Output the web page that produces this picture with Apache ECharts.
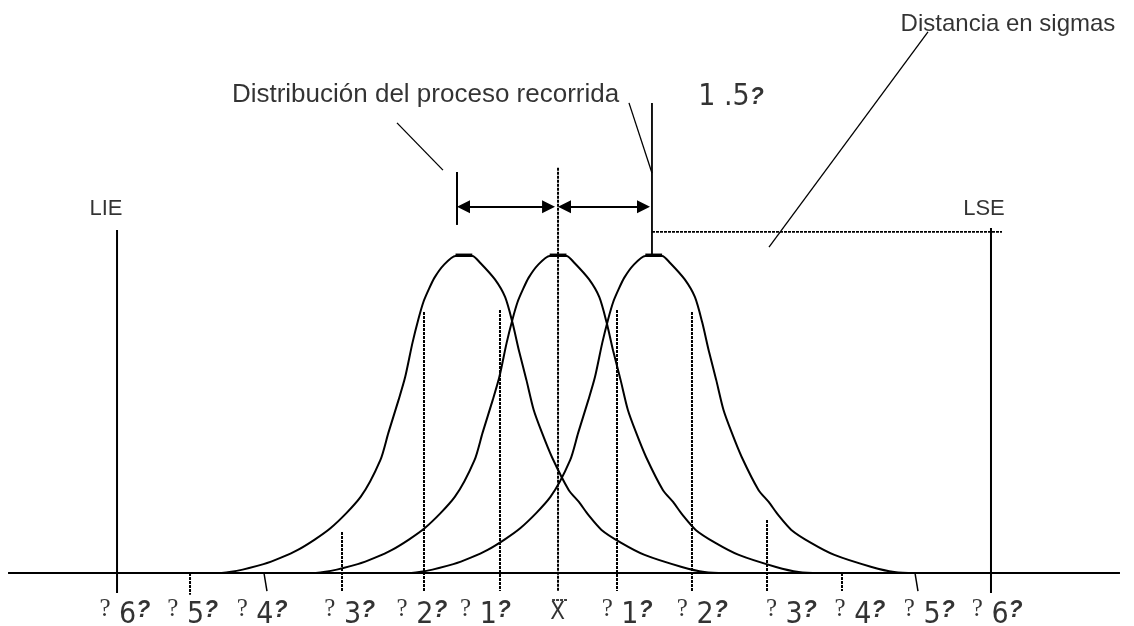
<!DOCTYPE html>
<html><head><meta charset="utf-8">
<script src="https://cdn.jsdelivr.net/npm/echarts@6/dist/echarts.min.js"></script>
<style>html,body{margin:0;padding:0;background:#fff}#c{width:1134px;height:626px}</style>
</head><body><div id="c"></div>
<script>
// ---- data (x in sigma units from the mean, y in fraction of peak height) ----
const shapeOffsets = [-4.05,-3.37,-2.74,-2.27,-1.82,-1.41,-1.14,-1.03,-0.89,-0.80,-0.70,-0.62,-0.55,-0.48,-0.40,-0.27,-0.11,0,
  0.12,0.23,0.43,0.57,0.67,0.76,0.86,0.96,1.07,1.21,1.44,1.58,1.71,1.89,2.16,2.48,2.99,3.30,3.58,4.04];
const shapeHeights = [0,0,0.028,0.073,0.142,0.24,0.356,0.442,0.546,0.618,0.726,0.80,0.855,0.893,0.931,0.972,1.0,1.0,
  1.0,0.978,0.926,0.87,0.79,0.70,0.61,0.515,0.445,0.366,0.262,0.224,0.183,0.136,0.095,0.057,0.019,0.003,0,0];
const curveMeans = [-1.28, 0.01, 1.32];

const sigmaLabels = ['6','5','4','3','2','1','X','1','2','3','4','5','6'];
const sigmaLabelX = [-5.92,-4.99,-4.04,-2.84,-1.85,-0.98,0.01,0.96,1.99,3.21,4.15,5.10,6.03];

const guideX      = [-5.027,-2.945,-1.822,-0.781,0.014,0.822,1.849,2.877,3.904];
const guideTop    = [0,     0.129, 0.823, 0.830, 1.278,0.830,0.823,0.167,0];
const guideBottom = [-0.069,-0.057,-0.057,-0.057,-0.057,-0.057,-0.057,-0.057,-0.057];

const limitNames = ['LIE','LSE'];
const limitX = [-6.027, 5.945];
const limitTop = [1.082, 1.088];

// ---- layout constants ----
const W = 1134, H = 626, X0 = 557, PXS = 73, Y0 = 573, PXU = 317;
const K = '#000';

const series = [];
function seg(pts, width, dashed) {
  series.push({type:'line', data: pts, symbol:'none', silent:true, clip:false,
    lineStyle:{color:K, width: width, type: dashed ? [3,1] : 'solid'}, z: 3});
}
// baseline
seg([[-7.52,0],[7.712,0]], 2, false);
// three distributions
curveMeans.forEach(m => {
  series.push({type:'line', data: shapeOffsets.map((o,i)=>[m+o, shapeHeights[i]]),
    symbol:'none', smooth:0.25, silent:true, clip:false,
    lineStyle:{color:K, width:2}, z:4});
  seg([[m-0.11,1.003],[m+0.12,1.003]], 3, false);
});
// sigma guide lines
guideX.forEach((x,i)=> seg([[x,guideTop[i]],[x,guideBottom[i]]], 2, true));
// short slanted ticks
seg([[-4.014,0],[-3.973,-0.057]], 1.5, false);
seg([[4.904,0],[4.945,-0.057]], 1.5, false);
// spec limits
limitX.forEach((x,i)=> seg([[x,limitTop[i]],[x,-0.063]], 2, false));
// shift markers
seg([[-1.370,1.265],[-1.370,1.098]], 2, false);
seg([[1.301,1.483],[1.301,1.262],[1.301,1.0]], 1.8, false);
seg([[0.986,1.483],[1.301,1.262]], 1.3, false);
seg([[-2.192,1.420],[-1.562,1.271]], 1.3, false);
seg([[1.301,1.076],[6.096,1.076]], 1.6, true);
seg([[5.082,1.707],[2.904,1.028]], 1.3, false);
// x-bar overline
seg([[-0.068,-0.085],[0.137,-0.085]], 1.5, true);
// arrows
series.push({type:'line', data:[], silent:true,
  markLine:{silent:true, symbol:['triangle','triangle'], symbolSize:[13,13], animation:false,
    label:{show:false}, lineStyle:{color:K, width:2, type:'solid'},
    data:[[{coord:[-1.281,1.155]},{coord:[-0.116,1.155]}],[{coord:[0.103,1.155]},{coord:[1.185,1.155]}]]}});

// texts
const serifQ = {fontFamily:'Liberation Serif', fontSize:25, color:K, verticalAlign:'bottom', padding:[0,0,8,0]};
const boldQ = {fontFamily:'Liberation Sans', fontWeight:'bold', fontStyle:'italic', fontSize:23, color:K, verticalAlign:'bottom', padding:[0,0,8,0]};
const narrow = {fontFamily:'Liberation Sans Narrow, DejaVu Sans Condensed, Liberation Sans', fontSize:30, color:K, verticalAlign:'bottom'};
const texts = [];
sigmaLabels.forEach((s,i)=>{
  texts.push({value:[sigmaLabelX[i], -0.127],
    label:{formatter: s==='X' ? '{n|X}' : '{a|?}{n| '+s+'}{b|?}',
      rich:{a:serifQ, b:boldQ, n: s==='X' ? Object.assign({}, narrow, {fontSize:24}) : narrow}}});
});
const plain = (txt, x, y, size) => texts.push({value:[x,y], label:{formatter:txt, fontFamily:'Liberation Sans', fontSize:size, color:K}});
plain('Distribución del proceso recorrida', -1.801, 1.508, 26);
plain('Distancia en sigmas', 6.178, 1.732, 24);
limitNames.forEach((n,i)=> plain(n, i===0 ? -6.178 : 5.849, 1.150, 22));
texts.push({value:[2.384,1.502], label:{formatter:'{n|1 .5}{b|?}', rich:{n:narrow, b:Object.assign({}, boldQ, {padding:[0,0,3,0]})}}});
series.push({type:'scatter', data:texts, symbolSize:0, silent:true, clip:false, z:6,
  label:{show:true, position:'inside', color:K}});

const chart = echarts.init(document.getElementById('c'), null, {renderer:'canvas'});
chart.setOption({
  animation:false,
  backgroundColor:'#fff',
  grid:{left:0,right:0,top:0,bottom:0},
  xAxis:{type:'value', min:-X0/PXS, max:(W-X0)/PXS, show:false},
  yAxis:{type:'value', min:-(H-Y0)/PXU, max:Y0/PXU, show:false},
  tooltip:{show:false},
  series: series
});
</script></body></html>
